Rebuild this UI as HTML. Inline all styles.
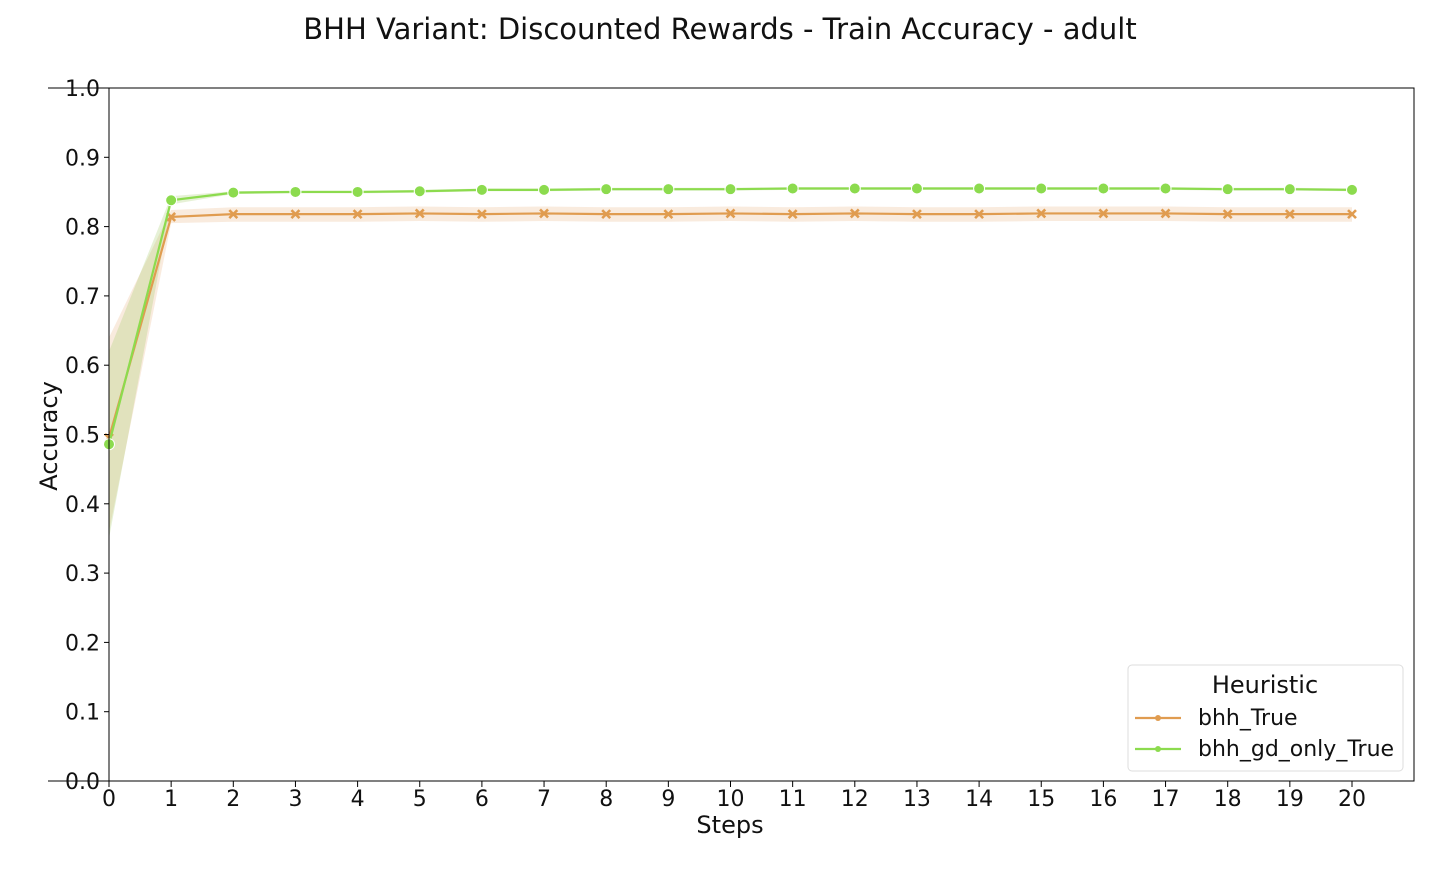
<!DOCTYPE html>
<html><head><meta charset="utf-8"><style>
body{margin:0;background:#fff;font-family:"Liberation Sans","DejaVu Sans",sans-serif;}
svg text{font-family:"DejaVu Sans","Liberation Sans",sans-serif;fill:#111;}
</style></head><body>
<svg id="chart" width="1440" height="864" xmlns="http://www.w3.org/2000/svg">
<text x="720" y="39" font-size="29" text-anchor="middle">BHH Variant: Discounted Rewards - Train Accuracy - adult</text>
<g id="plot"></g>
</svg>
<script>
const steps=[0,1,2,3,4,5,6,7,8,9,10,11,12,13,14,15,16,17,18,19,20];
const bhhTrue=[0.495,0.814,0.818,0.818,0.818,0.819,0.818,0.819,0.818,0.818,0.819,0.818,0.819,0.818,0.818,0.819,0.819,0.819,0.818,0.818,0.818];
const bhhTrueLo=[0.36,0.805,0.807,0.807,0.807,0.808,0.807,0.808,0.807,0.807,0.808,0.807,0.808,0.807,0.807,0.808,0.808,0.808,0.807,0.807,0.807];
const bhhTrueHi=[0.64,0.824,0.828,0.828,0.828,0.829,0.828,0.829,0.828,0.828,0.829,0.828,0.829,0.828,0.828,0.829,0.829,0.829,0.828,0.828,0.828];
const gdOnly=[0.486,0.838,0.849,0.850,0.850,0.851,0.853,0.853,0.854,0.854,0.854,0.855,0.855,0.855,0.855,0.855,0.855,0.855,0.854,0.854,0.853];
const gdOnlyLo=[0.35,0.832,0.847,0.848,0.848,0.849,0.851,0.851,0.852,0.852,0.852,0.853,0.853,0.853,0.853,0.853,0.853,0.853,0.852,0.852,0.851];
const gdOnlyHi=[0.62,0.844,0.851,0.852,0.852,0.853,0.855,0.855,0.856,0.856,0.856,0.857,0.857,0.857,0.857,0.857,0.857,0.857,0.856,0.856,0.855];
const yTicks=[0,0.1,0.2,0.3,0.4,0.5,0.6,0.7,0.8,0.9,1.0];
const yTickLabels=["0.0","0.1","0.2","0.3","0.4","0.5","0.6","0.7","0.8","0.9","1.0"];

const L=109,R=1414,T=88,B=781;
const x=s=>L+s*(1352-109)/20;
const y=v=>B-v*(B-T);
const ns="http://www.w3.org/2000/svg";
const g=document.getElementById('plot');
function mk(tag,attrs,parent){const e=document.createElementNS(ns,tag);for(const k in attrs)e.setAttribute(k,attrs[k]);(parent||g).appendChild(e);return e;}

function band(lo,hi,color,name){
  let d='M'+steps.map((s,i)=>x(s)+','+y(hi[i])).join('L');
  d+='L'+steps.slice().reverse().map((s,j)=>{const i=steps.length-1-j;return x(s)+','+y(lo[i]);}).join('L')+'Z';
  const p=mk('path',{d:d,fill:color,'fill-opacity':0.25,stroke:'none'});
  
  
}
band(bhhTrueLo,bhhTrueHi,'#e6b07a','bhh-true-ci-band');
band(gdOnlyLo,gdOnlyHi,'#9cc95a','bhh-gd-only-ci-band');

function line(vals,color,name){
  const p=mk('polyline',{points:steps.map((s,i)=>x(s)+','+y(vals[i])).join(' '),fill:'none',stroke:color,'stroke-width':2.2});
  
  
}
line(bhhTrue,'#e09c50','bhh-true-line');
steps.forEach((s,i)=>{
  const cx=x(s),cy=y(bhhTrue[i]);
  const m=mk('path',{d:`M${cx-4},${cy-4}L${cx+4},${cy+4}M${cx-4},${cy+4}L${cx+4},${cy-4}`,stroke:'#e09c50','stroke-width':2.6});
  
  
});
line(gdOnly,'#8cdb4e','bhh-gd-only-line');
steps.forEach((s,i)=>{
  const c=mk('circle',{cx:x(s),cy:y(gdOnly[i]),r:5.5,fill:'#8cdb4e',stroke:'#fff','stroke-width':1});
  
  
});

const fr=mk('rect',{x:L,y:T,width:R-L,height:B-T,fill:'none',stroke:'#000','stroke-width':1});


mk('line',{x1:48,x2:L,y1:T,y2:T,stroke:'#000','stroke-width':1});
mk('line',{x1:48,x2:L,y1:B,y2:B,stroke:'#000','stroke-width':1});
yTicks.forEach((v,i)=>{
  mk('line',{x1:L-5,x2:L,y1:y(v),y2:y(v),stroke:'#000','stroke-width':1});
  const t=mk('text',{x:100,y:y(v)+8,'font-size':22,'text-anchor':'end'});
  t.textContent=yTickLabels[i];
  
  
});
steps.forEach(s=>{
  mk('line',{x1:x(s),x2:x(s),y1:B,y2:B+6,stroke:'#000','stroke-width':1});
  const t=mk('text',{x:x(s),y:B+25,'font-size':22,'text-anchor':'middle'});
  t.textContent=String(s);
  
  
});
const xt=mk('text',{x:730,y:833,'font-size':24,'text-anchor':'middle'});xt.textContent='Steps';


const yt=mk('text',{x:0,y:0,'font-size':24,'text-anchor':'middle',transform:'translate(57,436) rotate(-90)'});yt.textContent='Accuracy';



const lg=mk('g',{});


mk('rect',{x:1128,y:665,width:275,height:106,rx:4,fill:'#fff',stroke:'#ddd','stroke-width':1},lg);
const lt=mk('text',{x:1265,y:693,'font-size':24,'text-anchor':'middle'},lg);lt.textContent='Heuristic';


[['bhh_True','#e09c50',718,'legend-entry-bhh-true'],['bhh_gd_only_True','#8cdb4e',749,'legend-entry-bhh-gd-only']].forEach(([lab,c,yy,nm])=>{
  const e=mk('g',{},lg);
  
  
  mk('line',{x1:1135,x2:1181,y1:yy,y2:yy,stroke:c,'stroke-width':2.2},e);
  mk('circle',{cx:1158,cy:yy,r:3,fill:c},e);
  const t=mk('text',{x:1198,y:yy+7,'font-size':22},e);t.textContent=lab;
});
</script>
</body></html>
